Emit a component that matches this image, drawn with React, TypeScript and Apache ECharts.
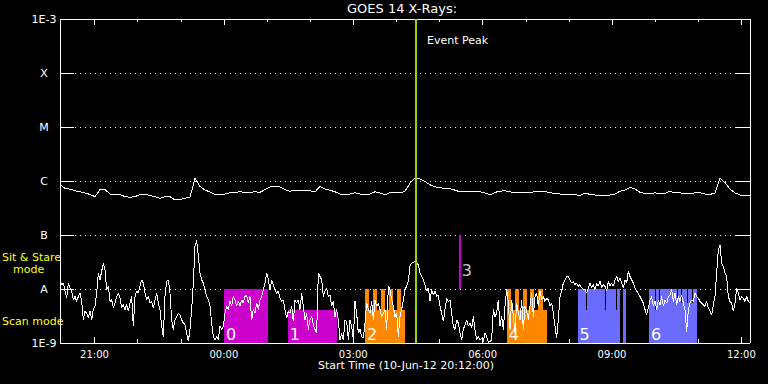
import React, { useEffect, useRef } from 'react';
import * as echarts from 'echarts';

// Time axis in hours from 10-Jun-12 00:00 (start 20:12, end 12:12 next day)
const START_HOUR = 20.2;
const END_HOUR = 36.2;

// GOES 14 long channel (1-8 A), log10 flux W/m^2, evenly sampled
const LONG_LOG = [
  -6.06,-6.14,-6.15,-6.18,-6.20,-6.22,-6.25,-6.29,-6.16,-6.16,-6.24,-6.25,-6.25,-6.29,-6.30,-6.29,-6.25,-6.24,-6.27,-6.29,
  -6.32,-6.29,-6.29,-6.35,-6.34,-6.32,-6.30,-5.95,-6.10,-6.17,-6.20,-6.25,-6.26,-6.24,-6.22,-6.21,-6.20,-6.21,-6.21,-6.20,-6.21,
  -6.16,-6.11,-6.11,-6.11,-6.16,-6.19,-6.17,-6.17,-6.17,-6.18,-6.20,-6.10,-6.15,-6.17,-6.20,-6.24,-6.26,-6.24,-6.22,-6.24,
  -6.26,-6.24,-6.20,-6.22,-6.26,-6.21,-6.22,-6.22,-6.19,-6.04,-5.95,-5.96,-6.01,-6.07,-6.11,-6.12,-6.14,-6.14,-6.17,-6.20,
  -6.20,-6.20,-6.20,-6.20,-6.22,-6.26,-6.21,-6.19,
  -6.18,-6.20,-6.22,-6.21,-6.21,-6.21,-6.20,-6.19,-6.20,-6.21,-6.24,-6.24,-6.25,-6.25,-6.25,-6.27,-6.22,-6.25,-6.26,-6.26,
  -6.26,-6.26,-6.24,-6.19,-6.17,-6.12,-6.15,-6.21,-6.23,-6.23,-6.22,-6.24,-6.23,-6.19,-6.22,-6.22,-6.24,-6.24,-6.22,-6.22,
  -6.24,-6.25,-6.22,-5.95,-6.03,-6.15,-6.22,-6.26,-6.26,-6.26,
];

// GOES 14 short channel (0.5-4 A), log10 flux W/m^2, evenly sampled
const SHORT_LOG = [
  -7.83,-7.92,-7.89,-8.04,-8.17,-7.89,-7.98,-8.04,-8.20,-8.14,
  -8.23,-8.14,-8.08,-8.23,-8.57,-8.41,-8.45,-8.54,-8.41,-8.57,
  -8.38,-8.32,-8.08,-7.70,-7.83,-7.67,-7.52,-7.64,-8.01,-7.95,
  -8.23,-8.20,-8.35,-8.26,-8.14,-8.08,-8.17,-8.35,-8.29,-8.38,
  -8.29,-8.41,-8.26,-8.14,-8.69,-8.14,-8.04,-8.08,-7.95,-7.83,
  -7.89,-8.08,-8.20,-8.14,-8.26,-8.23,-8.35,-8.20,-8.08,-8.26,
  -8.38,-8.69,-8.88,-8.14,-7.86,-7.83,-8.08,-8.57,-8.75,-8.57,
  -8.51,-8.45,-8.48,-8.57,-8.63,-8.66,-8.82,-8.97,-8.75,-8.38,
  -7.89,-7.21,-7.10,-7.40,-7.70,-7.83,-7.89,-8.01,-8.14,-8.20,
  -8.32,-8.63,-8.88,-8.94,-8.88,-8.94,-8.69,-8.75,-8.69,-8.45,
  -8.32,-8.38,-8.23,-8.32,-8.14,
  -8.20,-8.32,-8.23,-8.32,-8.20,-8.26,-8.14,-8.11,-8.26,-8.14,
  -8.57,-8.38,-8.45,-8.26,-8.38,-8.20,-8.14,-8.01,-7.89,-7.70,
  -7.83,-8.01,-7.83,-7.92,-8.01,-8.08,-8.04,-8.17,-8.23,-8.20,
  -8.38,-8.54,-8.41,-8.45,-8.32,-8.60,-8.20,-8.26,-8.20,-8.38,
  -8.08,-8.32,-8.57,-8.45,-8.75,-8.57,-8.51,-8.66,-8.75,-8.82,
  -7.70,-7.77,-7.83,-8.14,-8.04,-7.98,-8.14,-8.11,-8.32,-8.23,
  -8.51,-8.38,-8.57,-8.94,-8.82,-8.94,-8.57,-8.60,-8.94,-8.57,
  -8.69,-8.94,-8.23,-8.45,-8.82,-8.75,-8.88,-8.91,-8.63,-8.26,
  -8.38,-8.45,-8.23,-8.57,-8.20,-8.32,-8.26,-8.38,-8.51,-8.45,
  -8.38,-8.75,-7.95,-8.01,-8.20,-8.32,-8.51,-8.45,-8.88,-8.51,
  -8.38,-8.20,-8.01,-7.95,-7.86,
  -7.58,-7.52,-7.51,-7.49,-7.52,-7.55,-7.70,-7.77,-7.83,-7.92,
  -8.04,-7.98,-8.23,-8.01,-8.11,-8.04,-8.14,-8.11,-8.32,-8.45,
  -8.60,-8.38,-8.17,-8.23,-8.20,-8.45,-8.69,-8.75,-8.57,-8.63,
  -8.82,-8.94,-8.75,-8.66,-8.57,-8.69,-8.63,-8.72,-8.51,-8.75,
  -8.94,-8.88,-8.94,-8.91,-8.97,-8.82,-8.88,-8.99,-8.97,-8.94,
  -8.38,-8.51,-8.45,-8.20,-8.69,-8.51,-8.75,-8.32,-8.01,-8.26,
  -8.75,-8.20,-8.51,-8.79,-8.26,-8.45,-8.57,-8.20,-8.75,-8.32,
  -8.41,-8.57,-8.32,-8.08,-8.51,-8.14,-8.08,-8.32,-8.04,-8.20,
  -8.14,-8.23,-8.17,-8.20,-8.32,-8.26,-8.45,-8.69,-8.91,-8.57,
  -8.14,-8.04,-7.89,-7.83,-7.77,-7.77,-7.83,-7.89,-7.86,-7.92,
  -7.89,-7.95,-7.92,-7.98,-8.01,
  -8.01,-8.08,-7.98,-7.89,-7.98,-7.92,-8.01,-7.89,-7.95,-7.86,
  -7.98,-7.92,-7.95,-8.04,-7.86,-7.95,-7.89,-7.95,-7.83,-7.77,
  -7.86,-7.80,-7.89,-7.98,-7.83,-7.89,-7.67,-7.77,-7.83,-7.89,
  -7.98,-8.04,-8.08,-8.14,-8.20,-8.26,-8.38,-8.48,-8.35,-8.20,
  -8.14,-8.32,-8.23,-8.38,-8.20,-8.29,-8.14,-8.32,-8.20,-8.26,
  -8.14,-8.11,-8.01,-8.23,-8.08,-8.29,-8.14,-8.23,-8.11,-8.26,
  -8.38,-8.79,-8.38,-8.26,-8.20,-8.23,-8.08,-8.14,-8.17,-8.23,
  -8.26,-8.29,-8.32,-8.23,-8.35,-8.41,-8.48,-8.29,-8.14,-7.70,
  -7.27,-7.18,-7.52,-7.58,-7.70,-7.77,-8.14,-8.23,-8.26,-8.41,
  -8.26,-7.98,-8.08,-8.20,-8.14,-8.17,-8.23,-8.14,-8.23,-8.26,
];

// Axis ticks (hours) and labels
const MAJOR_TICKS = [21, 24, 27, 30, 33, 36];
const MINOR_TICKS = [21, 22, 23, 24, 25, 26, 27, 28, 29, 30, 31, 32, 33, 34, 35, 36];
const CLASS_LABELS: Record<string, string> = {
  '-9': '1E-9', '-8': 'A', '-7': 'B', '-6': 'C', '-5': 'M', '-4': 'X', '-3': '1E-3',
};

// Observation blocks (hours, flux top)
const BLOCK_START = [24.0, 25.48, 27.27, 30.56, 32.2, 33.26, 33.86];
const BLOCK_END = [25.03, 26.63, 28.2, 31.49, 33.19, 33.32, 34.97];
const BLOCK_TOP = [1e-8, 4.1e-9, 4.1e-9, 4.1e-9, 1e-8, 1e-8, 1e-8];
const BLOCK_MODE = ['m', 'm', 'o', 'o', 'b', 'b', 'b'];
const BLOCK_LABEL = ['0', '1', '2', '4', '5', '', '6'];

// Tall scan pulses in the orange blocks (to 1e-8)
const PULSE_START = [27.27, 27.46, 27.64, 27.83, 28.01, 30.56, 30.75, 30.93, 31.1, 31.29];
const PULSE_END = [27.37, 27.56, 27.74, 27.93, 28.11, 30.66, 30.85, 31.03, 31.2, 31.39];

// Short gaps inside blue blocks
const GAP_TIME = [32.4, 32.86, 33.11, 34.02, 34.09, 34.52, 34.62, 34.76, 34.86];
const GAP_BOTTOM = [4.1e-9, 4.1e-9, 4.1e-9, 4.1e-9, 5.5e-9, 5.5e-9, 5.5e-9, 5.5e-9, 5.5e-9];
const GAP_TOP = 1e-8;

// Event marks
const EVENT_PEAK = 28.45;
const MARK3_TIME = 29.48;
const MARK3_RANGE = [1e-7, 1e-8];
const MARK3_LABEL_Y = 2.2e-8;

const YMIN = 1e-9;
const YMAX = 1e-3;

const MODE_COLOR: Record<string, string> = { m: '#cc00cc', o: '#ff8800', b: '#6b6bff' };
const FONT = 'DejaVu Sans';

function hourLabel(v: number) {
  const h = Math.round(v) % 24;
  return (h < 10 ? '0' : '') + h + ':00';
}

export default function App() {
  const ref = useRef<HTMLDivElement>(null);
  useEffect(() => {
    document.body.style.margin = '0';
    document.body.style.background = '#000';
    if (!ref.current) return;
    const chart = echarts.init(ref.current, undefined, { renderer: 'svg' });

    const longStep = (END_HOUR - START_HOUR) / (LONG_LOG.length - 1);
    const shortStep = (END_HOUR - START_HOUR) / (SHORT_LOG.length - 1);
    const longData = LONG_LOG.map((v, i) => [START_HOUR + i * longStep, Math.pow(10, v)]);
    const shortData = SHORT_LOG.map((v, i) => [START_HOUR + i * shortStep, Math.pow(10, v)]);

    const halfGap = 0.0116;
    const areas: any[] = [];
    BLOCK_START.forEach((s, i) => {
      areas.push([
        {
          xAxis: s,
          yAxis: YMIN,
          itemStyle: { color: MODE_COLOR[BLOCK_MODE[i]], opacity: 1 },
          label: {
            show: BLOCK_LABEL[i] !== '',
            formatter: BLOCK_LABEL[i],
            position: 'insideBottomLeft',
            distance: 1,
            offset: [1, 0],
            color: '#fff',
            fontSize: 16,
            fontFamily: FONT,
          },
        },
        { xAxis: BLOCK_END[i], yAxis: BLOCK_TOP[i] },
      ]);
    });
    PULSE_START.forEach((s, i) => {
      areas.push([
        { xAxis: s, yAxis: YMIN, itemStyle: { color: MODE_COLOR.o, opacity: 1 }, label: { show: false } },
        { xAxis: PULSE_END[i], yAxis: GAP_TOP },
      ]);
    });
    GAP_TIME.forEach((t, i) => {
      areas.push([
        { xAxis: t - halfGap, yAxis: GAP_BOTTOM[i], itemStyle: { color: '#000', opacity: 1 }, label: { show: false } },
        { xAxis: t + halfGap, yAxis: GAP_TOP },
      ]);
    });

    const baseX: any = {
      type: 'value',
      min: START_HOUR,
      max: END_HOUR,
      splitLine: { show: false },
      axisLabel: { show: false },
      axisLine: { show: false },
    };
    const tickStyle = { color: '#fff', width: 1 };

    const option: any = {
      animation: false,
      backgroundColor: '#000',
      title: [
        {
          text: 'GOES 14 X-Rays:',
          left: 347,
          top: 2,
          padding: 0,
          textStyle: { color: '#fff', fontSize: 13, fontWeight: 'normal', fontFamily: FONT },
        },
        {
          text: 'Start Time (10-Jun-12 20:12:00)',
          left: 318,
          top: 360,
          padding: 0,
          textStyle: { color: '#fff', fontSize: 11, fontWeight: 'normal', fontFamily: FONT },
        },
      ],
      grid: { left: 60, right: 18, top: 19, bottom: 41, show: false },
      xAxis: [
        {
          ...baseX,
          position: 'bottom',
          axisLine: { show: true, lineStyle: { color: '#fff', width: 1 } },
          axisTick: { show: true, inside: true, length: 6, customValues: MAJOR_TICKS, lineStyle: tickStyle },
          axisLabel: {
            show: true,
            customValues: MAJOR_TICKS,
            formatter: (v: number) => hourLabel(v),
            color: '#fff',
            fontSize: 10,
            fontFamily: FONT,
            margin: 6,
          },
        },
        {
          ...baseX,
          position: 'bottom',
          axisTick: { show: true, inside: true, length: 4, customValues: MINOR_TICKS, lineStyle: tickStyle },
        },
        {
          ...baseX,
          position: 'top',
          axisLine: { show: true, lineStyle: { color: '#fff', width: 1 } },
          axisTick: { show: true, inside: true, length: 6, customValues: MAJOR_TICKS, lineStyle: tickStyle },
        },
        {
          ...baseX,
          position: 'top',
          axisTick: { show: true, inside: true, length: 3, customValues: MINOR_TICKS, lineStyle: tickStyle },
        },
      ],
      yAxis: [
        {
          type: 'log',
          logBase: 10,
          min: YMIN,
          max: YMAX,
          splitNumber: 6,
          position: 'left',
          axisLine: { show: true, lineStyle: { color: '#fff', width: 1 } },
          axisTick: { show: true, inside: true, length: 14, lineStyle: tickStyle },
          axisLabel: {
            color: '#fff',
            fontSize: 11,
            fontFamily: FONT,
            align: 'center',
            margin: 16,
            formatter: (v: number) => CLASS_LABELS[String(Math.round(Math.log10(v)))] || '',
          },
          splitLine: { show: true, lineStyle: { color: '#fff', width: 1, type: [1, 4] } },
        },
        {
          type: 'log',
          logBase: 10,
          min: YMIN,
          max: YMAX,
          splitNumber: 6,
          position: 'right',
          axisLine: { show: true, lineStyle: { color: '#fff', width: 1 } },
          axisTick: { show: true, inside: true, length: 14, lineStyle: tickStyle },
          axisLabel: { show: false },
          splitLine: { show: false },
        },
      ],
      graphic: [
        { type: 'text', left: 2, top: 252, style: { text: 'Sit & Stare', fill: '#ffff00', font: `11px "${FONT}"` } },
        { type: 'text', left: 13, top: 264, style: { text: 'mode', fill: '#ffff00', font: `11px "${FONT}"` } },
        { type: 'text', left: 2, top: 316, style: { text: 'Scan mode', fill: '#ffff00', font: `11px "${FONT}"` } },
        { type: 'text', left: 427, top: 35, style: { text: 'Event Peak', fill: '#ffffff', font: `11px "${FONT}"` } },
      ],
      series: [
        {
          name: 'Observations',
          type: 'line',
          data: [],
          xAxisIndex: 0,
          yAxisIndex: 0,
          z: 1,
          zlevel: 0,
          markArea: { silent: true, z: 1, data: areas },
        },
        {
          name: 'Short',
          type: 'line',
          data: shortData,
          xAxisIndex: 0,
          yAxisIndex: 0,
          showSymbol: false,
          symbol: 'none',
          lineStyle: { color: '#fff', width: 1 },
          z: 10,
        },
        {
          name: 'Long',
          type: 'line',
          data: longData,
          xAxisIndex: 0,
          yAxisIndex: 0,
          showSymbol: false,
          symbol: 'none',
          lineStyle: { color: '#fff', width: 1 },
          z: 10,
        },
        {
          name: 'Marks',
          type: 'scatter',
          xAxisIndex: 0,
          yAxisIndex: 0,
          data: [[MARK3_TIME, MARK3_LABEL_Y]],
          symbolSize: 1,
          itemStyle: { color: 'rgba(0,0,0,0)' },
          label: {
            show: true,
            formatter: '3',
            position: 'right',
            distance: 1,
            color: '#fff',
            fontSize: 16,
            fontFamily: FONT,
          },
          z: 12,
          markLine: {
            silent: true,
            z: 12,
            symbol: ['none', 'none'],
            label: { show: false },
            data: [
              { xAxis: EVENT_PEAK, lineStyle: { color: '#a0d000', width: 2, type: 'solid' } },
              [
                { coord: [MARK3_TIME, MARK3_RANGE[0]], lineStyle: { color: '#cc00cc', width: 1.5, type: 'solid' } },
                { coord: [MARK3_TIME, MARK3_RANGE[1]] },
              ],
            ],
          },
        },
      ],
    };
    chart.setOption(option);
    return () => chart.dispose();
  }, []);
  return (
    <>
      <style>{'.goes-chart svg path { shape-rendering: crispEdges; }'}</style>
      <div
        ref={ref}
        className="goes-chart"
        style={{ position: 'absolute', left: 0, top: 0, width: 768, height: 384, background: '#000' }}
      />
    </>
  );
}
